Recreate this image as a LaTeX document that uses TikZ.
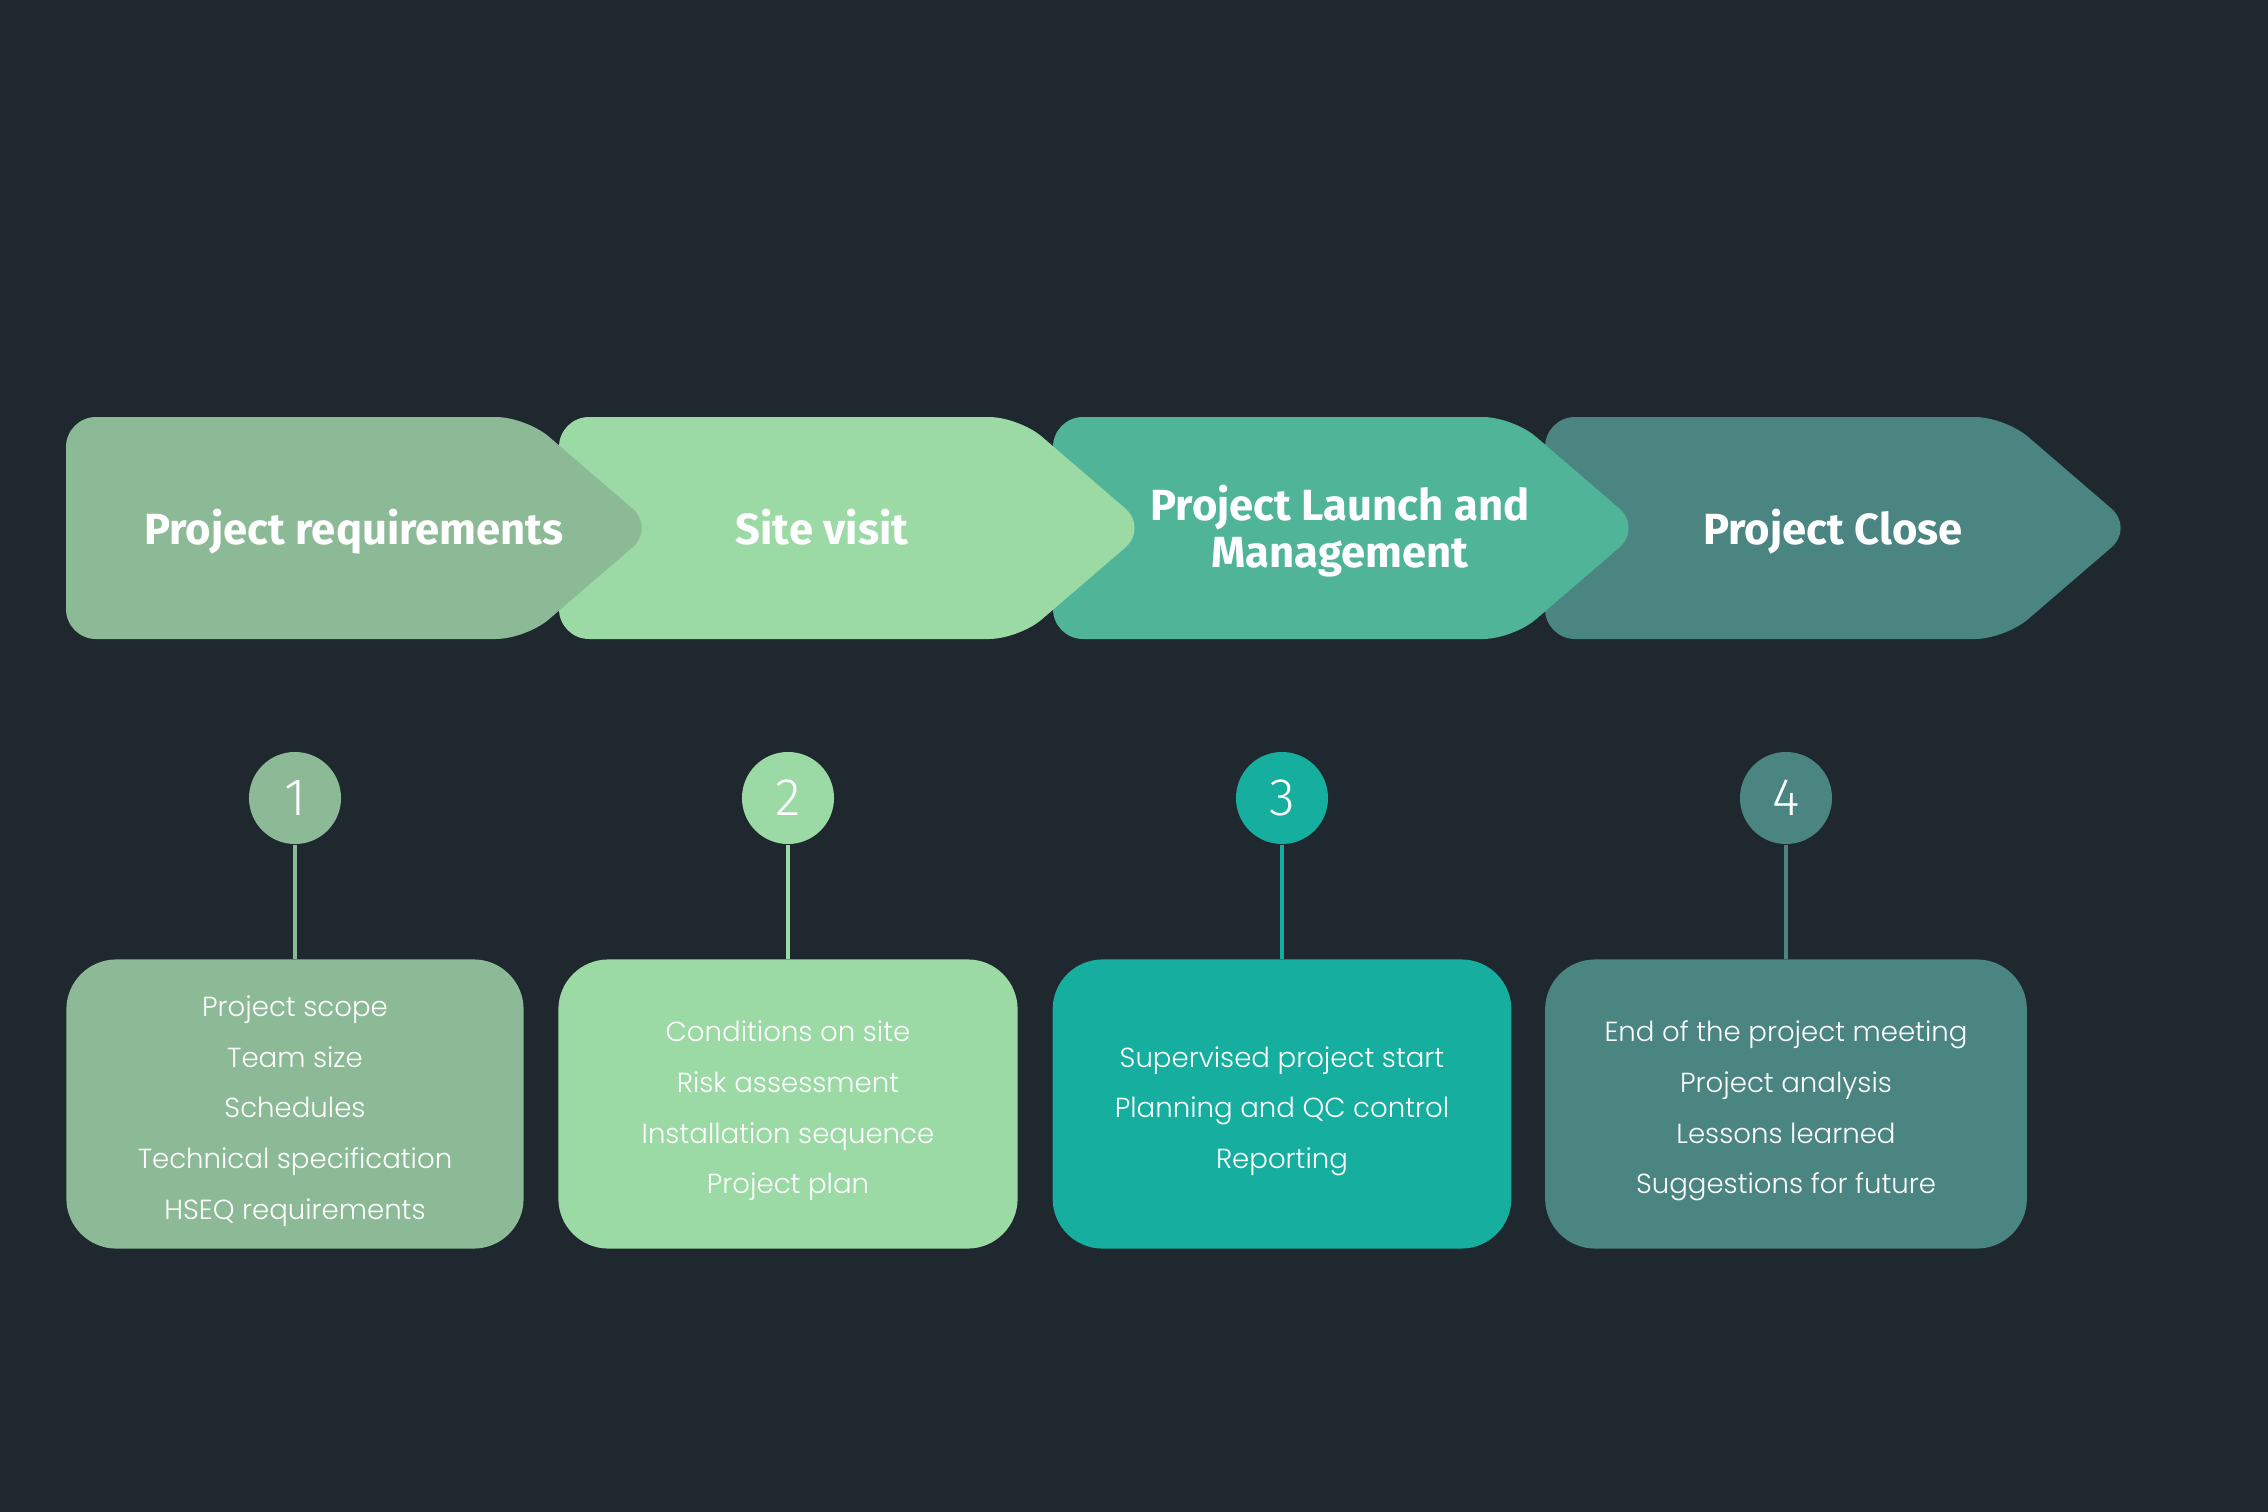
\documentclass[tikz,border=0pt]{standalone}
\usepackage{fontspec}
\setmainfont{Fira Sans}
\newfontfamily\titlefont{Fira Sans}[UprightFont=* Bold]
\newfontfamily\bodyfont{Poppins}[UprightFont=* Light]
\newfontfamily\numfont{Fira Sans}[UprightFont=* Light]
\definecolor{bg}{HTML}{1F282E}
\definecolor{cA}{HTML}{8CBA96}
\definecolor{cB}{HTML}{9BDAA5}
\definecolor{cC}{HTML}{50B498}
\definecolor{cCb}{HTML}{15AE9F}
\definecolor{cD}{HTML}{4A8582}
\tikzset{
  titletext/.style={text=white, font=\titlefont\fontsize{12.4}{13.4}\selectfont, align=center},
  numcircle/.style={circle, minimum size=0.92cm, inner sep=0pt, text=white, font=\numfont\fontsize{15}{18}\selectfont},
  infobox/.style={rectangle, rounded corners=0.5cm, minimum height=2.89cm, inner sep=0pt},
  boxtext/.style={text=white, align=center, yshift=-2pt, font=\bodyfont\fontsize{7.85}{14.4}\selectfont},
  arrowshape/.style={rounded corners=0.3cm},
  stem/.style={line width=1.1pt}
}
\begin{document}
\begin{tikzpicture}[x=0.01cm,y=-0.01cm]
\fill[bg] (0,0) rectangle (2268,1512);
\useasboundingbox (0,0) rectangle (2268,1512);
% arrows (drawn right to left so each tip overlaps the next)
\fill[cD, arrowshape] (1545,417) -- (2005,417) -- (2134,528) -- (2005,639) -- (1545,639) -- cycle;
\fill[cC, arrowshape] (1053,417) -- (1513,417) -- (1642,528) -- (1513,639) -- (1053,639) -- cycle;
\fill[cB, arrowshape] (559,417) -- (1019,417) -- (1148,528) -- (1019,639) -- (559,639) -- cycle;
\fill[cA, arrowshape] (66,417) -- (526,417) -- (655,528) -- (526,639) -- (66,639) -- cycle;
\node[titletext] (t1) at (354,532) {Project requirements};
\node[titletext] (t2) at (822,527) {Site visit};
\node[titletext] (t3) at (1340,531) {Project Launch and\\Management};
\node[titletext] (t4) at (1833,532) {Project Close};
% circles
\node[numcircle, fill=cA] (n1) at (295,798) {1};
\node[numcircle, fill=cB] (n2) at (788,798) {2};
\node[numcircle, fill=cCb] (n3) at (1282,798) {3};
\node[numcircle, fill=cD] (n4) at (1786,798) {4};
% boxes
\node[infobox, fill=cA, minimum width=4.57cm, label={[boxtext]center:Project scope\\Team size\\Schedules\\Technical specification\\HSEQ requirements}] (b1) at (295,1104) {};
\node[infobox, fill=cB, minimum width=4.59cm, label={[boxtext]center:Conditions on site\\Risk assessment\\Installation sequence\\Project plan}] (b2) at (788,1104) {};
\node[infobox, fill=cCb, minimum width=4.585cm, label={[boxtext]center:Supervised project start\\Planning and QC control\\Reporting}] (b3) at (1282,1104) {};
\node[infobox, fill=cD, minimum width=4.815cm, label={[boxtext]center:End of the project meeting\\Project analysis\\Lessons learned\\Suggestions for future}] (b4) at (1786,1104) {};
% stems
\draw[stem, cA] (n1.south) -- (b1.north);
\draw[stem, cB] (n2.south) -- (b2.north);
\draw[stem, cCb] (n3.south) -- (b3.north);
\draw[stem, cD] (n4.south) -- (b4.north);
\end{tikzpicture}
\end{document}
